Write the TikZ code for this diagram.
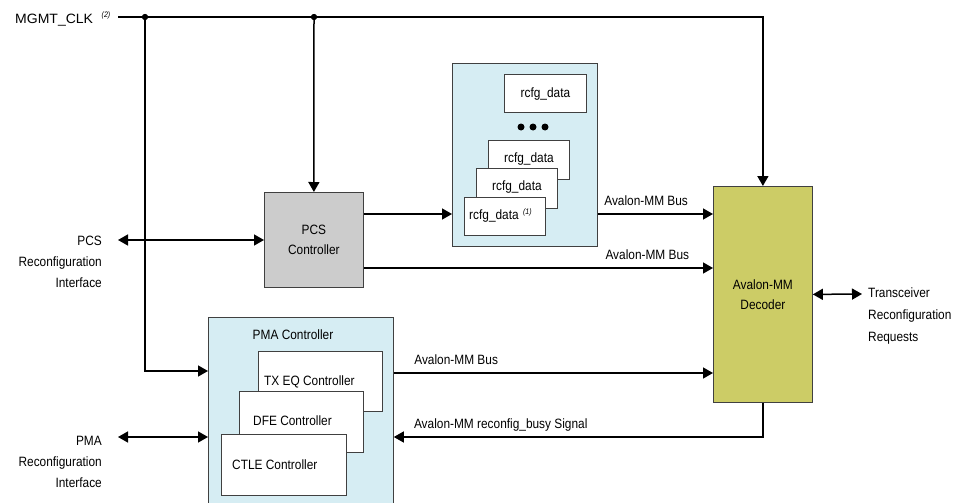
\documentclass[tikz,border=0pt]{standalone}
\usepackage{fontspec}
\setmainfont{Liberation Sans}[FakeStretch=0.88]
\usetikzlibrary{arrows.meta,calc}
\definecolor{lblue}{RGB}{214,237,243}
\definecolor{pcsgray}{RGB}{204,204,204}
\definecolor{olive}{RGB}{204,204,102}
\tikzset{
  blk/.style={draw=black!75, line width=0.8pt, anchor=north west, inner sep=0pt},
  sub/.style={blk, fill=white},
  wire/.style={line width=1.5pt},
  arr/.style={wire, -{Triangle[length=10pt,width=11pt]}},
  darr/.style={wire, {Triangle[length=10pt,width=11pt]}-{Triangle[length=10pt,width=11pt]}},
  lbl/.style={font=\fontsize{13.5}{16}\selectfont, inner sep=0pt},
  note/.style={font=\fontsize{8}{9}\itshape, inner sep=0pt},
  dot/.style={circle, fill=black, inner sep=0pt, minimum size=6pt}
}
\begin{document}
\begin{tikzpicture}[x=1pt,y=-1pt]
\useasboundingbox (0,0) rectangle (953,503);
% boxes
\node[blk, fill=pcsgray, minimum width=99pt, minimum height=95pt] (pcs) at (264,192) {};
\node[lbl, align=center] (pcst) at (pcs.center) {PCS\\[4pt]Controller};
\node[blk, fill=lblue, minimum width=145pt, minimum height=183pt] (rcfg) at (452,63) {};
\node[sub, minimum width=82pt, minimum height=38pt] (rd0) at (504,74) {};
\node[lbl] (rd0t) at ($(rd0.center)+(0,1)$) {rcfg\_data};
\node[dot, minimum size=7pt] (e1) at (521,127) {};
\node[dot, minimum size=7pt] (e2) at (533,127) {};
\node[dot, minimum size=7pt] (e3) at (545,127) {};
\node[sub, minimum width=81pt, minimum height=39pt] (rd1) at (488,140) {};
\node[lbl] (rd1t) at ($(rd1.center)+(0,-1)$) {rcfg\_data};
\node[sub, minimum width=81pt, minimum height=40pt] (rd2) at (476,168) {};
\node[lbl] (rd2t) at ($(rd2.center)+(0,-1)$) {rcfg\_data};
\node[sub, minimum width=81pt, minimum height=38pt] (rd3) at (464,197) {};
\node[lbl, anchor=west] (rd3t) at (469,216) {rcfg\_data};
\node[note, anchor=west] (n1) at ($(rd3t.east)+(4,-4)$) {(1)};
\node[blk, fill=olive, minimum width=99pt, minimum height=216pt] (dec) at (713,186) {};
\node[lbl, align=center] (dect) at (dec.center) {Avalon-MM\\[4pt]Decoder};
\node[blk, fill=lblue, minimum width=185pt, minimum height=190pt] (pma) at (208,317) {};
\node[lbl] (pmat) at (293,335) {PMA Controller};
\node[sub, minimum width=124pt, minimum height=60pt] (tx) at (258,351) {};
\node[lbl, anchor=west] (txt) at (264,382) {TX EQ Controller};
\node[sub, minimum width=124pt, minimum height=61pt] (dfe) at (239,391) {};
\node[lbl, anchor=west] (dfet) at (253,421) {DFE Controller};
\node[sub, minimum width=125pt, minimum height=61pt] (ctle) at (221,434) {};
\node[lbl, anchor=west] (ctlet) at (232,465) {CTLE Controller};
% external labels
\node[lbl, anchor=west] (clk) at (15,20) {\scalebox{1.18}[1]{MGMT\_CLK}};
\node[note] (n2) at (106,15) {(2)};
\node[lbl, align=right, anchor=north east] (pcsl) at (102,236) {PCS\\[5pt]Reconfiguration\\[5pt]Interface};
\node[lbl, align=right, anchor=north east] (pmal) at (102,436) {PMA\\[5pt]Reconfiguration\\[5pt]Interface};
\node[lbl, align=left, anchor=north west] (trl) at (868,288) {Transceiver\\[6pt]Reconfiguration\\[6pt]Requests};
% coordinates
\coordinate (clk0) at (118,17);
\node[dot] (d1) at (145,17) {};
\node[dot] (d2) at (314,17) {};
\coordinate (y1) at (0,214);
\coordinate (y2) at (0,268);
\coordinate (y3) at (0,373);
\coordinate (y4) at (0,437);
\coordinate (ypi) at (0,371);
\coordinate (pcsif) at (118,240);
\coordinate (pmaif) at (118,437);
\coordinate (trif) at (862,294);
% wires
\draw[wire] (clk0) -- (d1.center) -- (d2.center);
\draw[arr] (d2.center) -| (dec.north);
\draw[arr] (d1.center) |- (pma.west |- ypi);
\draw[arr] (d2.center) -- (pcs.north);
\draw[darr] (pcsif) -- (pcs.west |- pcsif);
\draw[darr] (pmaif) -- (pma.west |- pmaif);
\draw[darr] (dec.east) -- (trif);
\draw[arr] (pcs.east |- y1) -- (rcfg.west |- y1);
\draw[arr] (rcfg.east |- y1) -- (dec.west |- y1) node[lbl, pos=0.05, anchor=south west, yshift=8pt] (b1) {Avalon-MM Bus};
\draw[arr] (pcs.east |- y2) -- (dec.west |- y2) node[lbl, pos=0.69, anchor=south west, yshift=8pt] (b2) {Avalon-MM Bus};
\draw[arr] (pma.east |- y3) -- (dec.west |- y3) node[lbl, pos=0.062, anchor=south west, yshift=8pt] (b3) {Avalon-MM Bus};
\draw[arr] (dec.south) |- (pma.east |- y4);
\node[lbl, anchor=south west] (b4) at ($(pma.east |- y4)+(20,-6)$) {Avalon-MM reconfig\_busy Signal};
\node[dot] (d1b) at (d1) {};
\node[dot] (d2b) at (d2) {};
\end{tikzpicture}
\end{document}
